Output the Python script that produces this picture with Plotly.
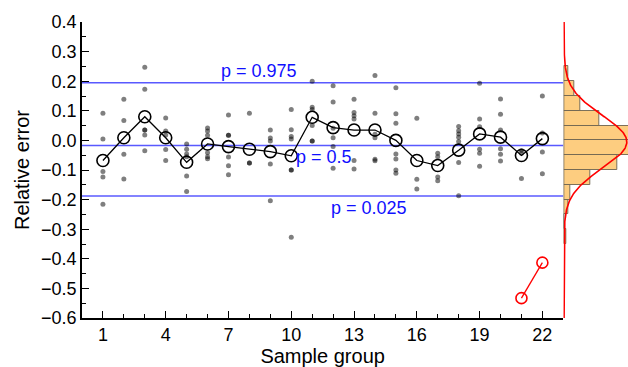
import numpy as np
import plotly.graph_objects as go

# ---------------- data ----------------
groups = list(range(1, 23))
group_means = [-0.068, 0.009, 0.080, 0.009, -0.074, -0.012, -0.021, -0.030, -0.038, -0.052,
               0.078, 0.043, 0.035, 0.035, 0.000, -0.068, -0.085, -0.033, 0.022, 0.011,
               -0.051, 0.006]
group_points = [
    [0.092, 0.005, -0.105, -0.124, -0.216],
    [0.139, 0.067, -0.047, -0.130],
    [0.247, 0.173, 0.035, 0.035, 0.018, -0.035],
    [0.076, 0.032, 0.018, -0.031, -0.068],
    [-0.012, -0.030, -0.046, -0.055, -0.120, -0.173],
    [0.042, 0.032, 0.017, -0.042, -0.055, -0.062],
    [0.086, 0.017, 0.017, -0.056, -0.086, -0.116],
    [0.092, -0.076, -0.076],
    [0.035, 0.008, -0.002, -0.080, -0.204],
    [0.104, 0.036, 0.013, 0.005, -0.100, -0.100, -0.327],
    [0.200, 0.112, 0.104, 0.050, -0.002, -0.002],
    [0.185, 0.130, 0.041, 0.009, -0.021, -0.094],
    [0.139, 0.094, 0.083, 0.072, -0.068, -0.097],
    [0.219, 0.092, 0.021, 0.009, -0.064, -0.069],
    [0.178, 0.090, 0.058, -0.046, -0.063, -0.100, -0.111],
    [0.075, -0.131, -0.164],
    [-0.043, -0.055, -0.124, -0.136],
    [0.047, 0.033, 0.022, 0.011, -0.004, -0.075, -0.187],
    [0.193, 0.072, 0.046, -0.030, -0.043, -0.087],
    [0.140, 0.088, 0.035, -0.028, -0.047, -0.070],
    [-0.034, -0.043, -0.129],
    [0.150, 0.025, -0.039, -0.113],
]
outlier_groups = [21, 22]
outlier_means = [-0.533, -0.413]

p_labels = ["p = 0.975", "p = 0.5", "p = 0.025"]
p_values = [0.195, -0.0176, -0.1875]
p_label_x = [8.47, 11.57, 13.72]
p_label_y = [0.235, -0.055, -0.228]

hist_bin_centers = [-0.325, -0.275, -0.225, -0.175, -0.125, -0.075, -0.025,
                    0.025, 0.075, 0.125, 0.175, 0.225]
hist_counts = [1, 0, 2, 3, 13, 27, 34, 34, 18, 8, 5, 2]
fit_mean, fit_sd, fit_peak = -0.005, 0.09, 31.7

x_ticks = [1, 4, 7, 10, 13, 16, 19, 22]

# ---------------- figure ----------------
fig = go.Figure()

px, py = [], []
for g, pts in zip(groups, group_points):
    px += [g] * len(pts)
    py += pts
fig.add_trace(go.Scatter(x=px, y=py, mode="markers",
                         marker=dict(size=5, color="rgba(0,0,0,0.5)"),
                         xaxis="x", yaxis="y", hoverinfo="skip"))

fig.add_trace(go.Scatter(x=groups, y=group_means, mode="lines+markers",
                         line=dict(color="black", width=1.3),
                         marker=dict(symbol="circle-open", size=12, color="black",
                                     line=dict(width=1.6)),
                         xaxis="x", yaxis="y"))

fig.add_trace(go.Scatter(x=outlier_groups, y=outlier_means, mode="lines+markers",
                         line=dict(color="red", width=1.3),
                         marker=dict(symbol="circle-open", size=11, color="red",
                                     line=dict(width=1.6)),
                         xaxis="x", yaxis="y"))

fig.add_trace(go.Bar(y=hist_bin_centers, x=hist_counts, orientation="h", width=0.05,
                     marker=dict(color="#FDCD80", line=dict(color="rgba(110,100,80,0.9)", width=1)),
                     xaxis="x2", yaxis="y"))

yy = np.linspace(-0.6, 0.4, 401)
fit_curve = fit_peak * np.exp(-0.5 * ((yy - fit_mean) / fit_sd) ** 2)
fig.add_trace(go.Scatter(x=fit_curve, y=yy, mode="lines",
                         line=dict(color="red", width=1.6),
                         xaxis="x2", yaxis="y"))

for v in p_values:
    fig.add_shape(type="line", xref="x", yref="y", x0=0, x1=23, y0=v, y1=v,
                  line=dict(color="rgba(60,60,255,0.85)", width=1.5), layer="below")

for txt, lx, ly in zip(p_labels, p_label_x, p_label_y):
    fig.add_annotation(x=lx, y=ly, xref="x", yref="y", text=txt, showarrow=False,
                       font=dict(size=18, color="#1010ff"))

main_end = (563.3 - 82) / 546

fig.update_layout(
    width=628, height=367,
    margin=dict(l=82, r=0, t=22, b=49),
    paper_bgcolor="white", plot_bgcolor="white",
    showlegend=False, bargap=0,
    font=dict(family="Liberation Sans, Arial, sans-serif", size=18, color="black"),
    xaxis=dict(domain=[0, main_end], range=[0, 23], tickmode="array", tickvals=x_ticks,
               ticks="inside", ticklen=7, tickwidth=1.3, tickcolor="black",
               showline=True, linecolor="black", linewidth=1.5,
               showgrid=False, zeroline=False,
               minor=dict(tickmode="array", tickvals=[v for v in range(1, 23) if v not in x_ticks],
                          ticks="inside", ticklen=4, tickwidth=1.3, tickcolor="black", showgrid=False),
               title=dict(text="Sample group", font=dict(size=20), standoff=4),
               anchor="y"),
    yaxis=dict(range=[-0.6, 0.4], tick0=0, dtick=0.1, tickformat=".1f",
               ticks="inside", ticklen=7, tickwidth=1.3, tickcolor="black",
               showline=True, linecolor="black", linewidth=1.5,
               showgrid=False, zeroline=False,
               minor=dict(dtick=0.05, tick0=0, ticks="inside", ticklen=4, tickwidth=1.3,
                          tickcolor="black", showgrid=False),
               title=dict(text="Relative error", font=dict(size=20), standoff=6),
               anchor="x"),
    xaxis2=dict(domain=[main_end, 1], range=[-0.4, 32.3], visible=False, anchor="y",
                showgrid=False, zeroline=False),
)

fig.write_html("out.html")
